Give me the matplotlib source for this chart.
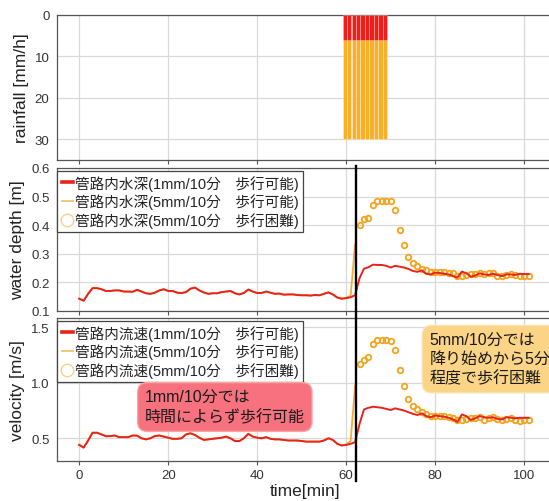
import matplotlib
matplotlib.use('Agg')
import matplotlib.pyplot as plt
from matplotlib.lines import Line2D
from matplotlib.transforms import blended_transform_factory

plt.rcParams['font.family'] = ['Liberation Sans', 'Noto Sans CJK JP']

# ---------------- data ----------------
rain_time = [59.7, 60.7, 61.7, 62.7, 63.7, 64.7, 65.7, 66.7, 67.7, 68.7]
rain_1mm = [6, 6, 6, 6, 6, 6, 6, 6, 6, 6]          # mm/h (1mm/10min)
rain_5mm = [30, 30, 30, 30, 30, 30, 30, 30, 30, 30]  # mm/h (5mm/10min)

time_all = list(range(0, 102))     # 0..101 min
time_walk5 = list(range(0, 63))    # 0..62 min
time_hard5 = list(range(63, 102))  # 63..101 min

depth_1mm = [
    0.143, 0.136, 0.160, 0.180, 0.180, 0.176, 0.170, 0.170, 0.172, 0.172,
    0.168, 0.168, 0.167, 0.174, 0.168, 0.162, 0.160, 0.164, 0.172, 0.176,
    0.170, 0.170, 0.164, 0.163, 0.166, 0.178, 0.182, 0.172, 0.165, 0.160,
    0.162, 0.162, 0.166, 0.168, 0.170, 0.162, 0.158, 0.163, 0.175, 0.168,
    0.163, 0.163, 0.168, 0.164, 0.160, 0.161, 0.157, 0.158, 0.158, 0.156,
    0.155, 0.155, 0.154, 0.156, 0.155, 0.160, 0.165, 0.158, 0.147, 0.143,
    0.145, 0.148, 0.155, 0.215, 0.248, 0.253, 0.262, 0.261, 0.261, 0.258,
    0.252, 0.258, 0.255, 0.252, 0.247, 0.240, 0.237, 0.242, 0.230, 0.228,
    0.234, 0.233, 0.230, 0.228, 0.222, 0.217, 0.238, 0.232, 0.220, 0.224,
    0.232, 0.228, 0.226, 0.230, 0.226, 0.222, 0.228, 0.228, 0.226, 0.230,
    0.229, 0.229]

depth_5mm_walk = [
    0.143, 0.136, 0.160, 0.180, 0.180, 0.176, 0.170, 0.170, 0.172, 0.172,
    0.168, 0.168, 0.167, 0.174, 0.168, 0.162, 0.160, 0.164, 0.172, 0.176,
    0.170, 0.170, 0.164, 0.163, 0.166, 0.178, 0.182, 0.172, 0.165, 0.160,
    0.162, 0.162, 0.166, 0.168, 0.170, 0.162, 0.158, 0.163, 0.175, 0.168,
    0.163, 0.163, 0.168, 0.164, 0.160, 0.161, 0.157, 0.158, 0.158, 0.156,
    0.155, 0.155, 0.154, 0.156, 0.155, 0.160, 0.165, 0.158, 0.147, 0.143,
    0.147, 0.153, 0.333]

depth_5mm_hard = [
    0.402, 0.420, 0.424, 0.471, 0.485, 0.485, 0.485, 0.483, 0.452, 0.384,
    0.331, 0.288, 0.268, 0.257, 0.248, 0.242, 0.238, 0.237, 0.236, 0.236,
    0.234, 0.232, 0.222, 0.222, 0.226, 0.229, 0.231, 0.233, 0.228, 0.232,
    0.234, 0.222, 0.222, 0.226, 0.229, 0.225, 0.222, 0.222, 0.222]

vel_1mm = [
    0.44, 0.416, 0.48, 0.55, 0.55, 0.535, 0.518, 0.52, 0.525, 0.51,
    0.51, 0.51, 0.525, 0.524, 0.50, 0.49, 0.50, 0.52, 0.525, 0.515,
    0.505, 0.495, 0.495, 0.50, 0.535, 0.545, 0.53, 0.505, 0.485, 0.49,
    0.495, 0.50, 0.505, 0.515, 0.50, 0.475, 0.475, 0.50, 0.54, 0.515,
    0.505, 0.50, 0.51, 0.495, 0.49, 0.49, 0.485, 0.48, 0.48, 0.48,
    0.475, 0.47, 0.47, 0.47, 0.47, 0.48, 0.50, 0.485, 0.45, 0.435,
    0.44, 0.45, 0.465, 0.63, 0.76, 0.775, 0.785, 0.78, 0.775, 0.765,
    0.755, 0.77, 0.76, 0.75, 0.735, 0.72, 0.71, 0.725, 0.70, 0.69,
    0.705, 0.70, 0.695, 0.685, 0.67, 0.648, 0.715, 0.70, 0.665, 0.68,
    0.70, 0.69, 0.685, 0.69, 0.675, 0.67, 0.69, 0.685, 0.68, 0.685,
    0.685, 0.685]

vel_5mm_walk = [
    0.44, 0.416, 0.48, 0.55, 0.55, 0.535, 0.518, 0.52, 0.525, 0.51,
    0.51, 0.51, 0.525, 0.524, 0.50, 0.49, 0.50, 0.52, 0.525, 0.515,
    0.505, 0.495, 0.495, 0.50, 0.535, 0.545, 0.53, 0.505, 0.485, 0.49,
    0.495, 0.50, 0.505, 0.515, 0.50, 0.475, 0.475, 0.50, 0.54, 0.515,
    0.505, 0.50, 0.51, 0.495, 0.49, 0.49, 0.485, 0.48, 0.48, 0.48,
    0.475, 0.47, 0.47, 0.47, 0.47, 0.48, 0.50, 0.485, 0.45, 0.435,
    0.445, 0.475, 0.975]

vel_5mm_hard = [
    1.17, 1.21, 1.23, 1.35, 1.385, 1.385, 1.385, 1.375, 1.30, 1.115,
    0.97, 0.855, 0.795, 0.765, 0.74, 0.72, 0.705, 0.70, 0.70, 0.70,
    0.695, 0.685, 0.665, 0.665, 0.675, 0.68, 0.685, 0.69, 0.665, 0.68,
    0.69, 0.67, 0.665, 0.675, 0.68, 0.665, 0.66, 0.665, 0.665]

rain_start_line = 62.2

legend_depth = ['管路内水深(1mm/10分　歩行可能)',
                '管路内水深(5mm/10分　歩行可能)',
                '管路内水深(5mm/10分　歩行困難)']
legend_vel = ['管路内流速(1mm/10分　歩行可能)',
              '管路内流速(5mm/10分　歩行可能)',
              '管路内流速(5mm/10分　歩行困難)']
note_1mm = '1mm/10分では\n時間によらず歩行可能'
note_5mm = '5mm/10分では\n降り始めから5分\n程度で歩行困難'

# ---------------- style ----------------
RED = '#e8231d'
ORANGE = '#f4a41c'
ORANGE_LINE = '#f5aa30'
BAR_RED = '#f01d1d'
BAR_ORANGE = '#f8b028'
GRID = '#d9d9d9'
SPINE = '#555555'

fig = plt.figure(figsize=(5.49, 5.02), dpi=100)
L = 56.5 / 549
W = (554 - 56.5) / 549
ax1 = fig.add_axes([L, 1 - 161 / 502, W, 145 / 502])
ax2 = fig.add_axes([L, 1 - 312 / 502, W, 143 / 502])
ax3 = fig.add_axes([L, 1 - 462 / 502, W, 143 / 502])

for ax in (ax1, ax2, ax3):
    ax.set_xlim(-5.1, 106.7)
    ax.set_xticks([0, 20, 40, 60, 80, 100])
    ax.grid(True, color=GRID, lw=0.9)
    ax.set_axisbelow(True)
    for s in ax.spines.values():
        s.set_color(SPINE)
        s.set_linewidth(0.9)
    ax.tick_params(axis='x', direction='out', length=3, width=0.8,
                   color=SPINE, labelsize=9.5, labelcolor='#333333', pad=3)
    ax.tick_params(axis='y', length=0, labelsize=9.5,
                   labelcolor='#333333', pad=5)

ax1.tick_params(axis='x', labelbottom=False)
ax2.tick_params(axis='x', labelbottom=False)

# rainfall
ax1.bar(rain_time, rain_5mm, width=0.97, color=BAR_ORANGE,
        edgecolor=(1, 1, 1, 0.35), linewidth=0.6, zorder=2)
ax1.bar(rain_time, rain_1mm, width=0.97, color=BAR_RED,
        edgecolor=(1, 1, 1, 0.35), linewidth=0.6, zorder=3)
ax1.set_ylim(35, 0)
ax1.set_yticks([0, 10, 20, 30])
ax1.set_ylabel('rainfall [mm/h]', fontsize=12.5, color='#222222', labelpad=4)

# water depth
ax2.plot(time_walk5, depth_5mm_walk, color=ORANGE_LINE, lw=1.3, zorder=2)
ax2.plot(time_hard5, depth_5mm_hard, ls='none', marker='o', ms=4.0,
         mfc='none', mec=ORANGE, mew=1.3, zorder=3)
ax2.plot(time_all, depth_1mm, color=RED, lw=1.4, zorder=4)
ax2.set_ylim(0.1, 0.6)
ax2.set_yticks([0.1, 0.2, 0.3, 0.4, 0.5, 0.6])
ax2.set_ylabel('water depth [m]', fontsize=12.5, color='#222222', labelpad=4)

# velocity
ax3.plot(time_walk5, vel_5mm_walk, color=ORANGE_LINE, lw=1.3, zorder=2)
ax3.plot(time_hard5, vel_5mm_hard, ls='none', marker='o', ms=4.0,
         mfc='none', mec=ORANGE, mew=1.3, zorder=3)
ax3.plot(time_all, vel_1mm, color=RED, lw=1.4, zorder=4)
ax3.set_ylim(0.295, 1.585)
ax3.set_yticks([0.5, 1.0, 1.5])
ax3.set_ylabel('velocity [m/s]', fontsize=12.5, color='#222222', labelpad=4)
ax3.set_xlabel('time[min]', fontsize=12.5, color='#222222', labelpad=1)

fig.align_ylabels([ax1, ax2, ax3])


def make_handles():
    return [Line2D([], [], color=RED, lw=2.6),
            Line2D([], [], color=ORANGE_LINE, lw=1.2, alpha=0.8),
            Line2D([], [], ls='none', marker='o', ms=9, mfc='none',
                   mec=ORANGE, mew=0.9, alpha=0.55)]


for ax, labels in ((ax2, legend_depth), (ax3, legend_vel)):
    leg = ax.legend(make_handles(), labels, loc='upper left',
                    bbox_to_anchor=(0.002, 0.982), borderaxespad=0,
                    fontsize=10.5, frameon=True, fancybox=False,
                    framealpha=1, edgecolor='#444444', handlelength=0.8,
                    handletextpad=0.15, borderpad=0.28, labelspacing=0.2)
    leg.get_frame().set_linewidth(0.9)
    leg.set_zorder(6)
    for t in leg.get_texts():
        t.set_color('#222222')

# annotation boxes
ax3.text(14.75, 0.782, note_1mm, fontsize=11.5, ha='left', va='center',
         linespacing=1.3, color='#1a1a1a', zorder=7,
         bbox=dict(boxstyle='round,pad=0.45,rounding_size=0.6',
                   fc='#f7727e', ec='#f9a3a3', lw=1))
ax3.text(78.7, 1.214, note_5mm, fontsize=11.5, ha='left', va='center',
         linespacing=1.3, color='#1a1a1a', zorder=7,
         bbox=dict(boxstyle='round,pad=0.45,rounding_size=0.6',
                   fc='#fcd486', ec='#fde3b3', lw=1))

# vertical black line across lower two panels
tr = blended_transform_factory(ax3.transData, fig.transFigure)
fig.add_artist(Line2D([rain_start_line, rain_start_line],
                      [1 - 482 / 502, 1 - 167 / 502],
                      transform=tr, color='black', lw=1.7, zorder=10))

fig.savefig('out.png', dpi=100, facecolor='white')
